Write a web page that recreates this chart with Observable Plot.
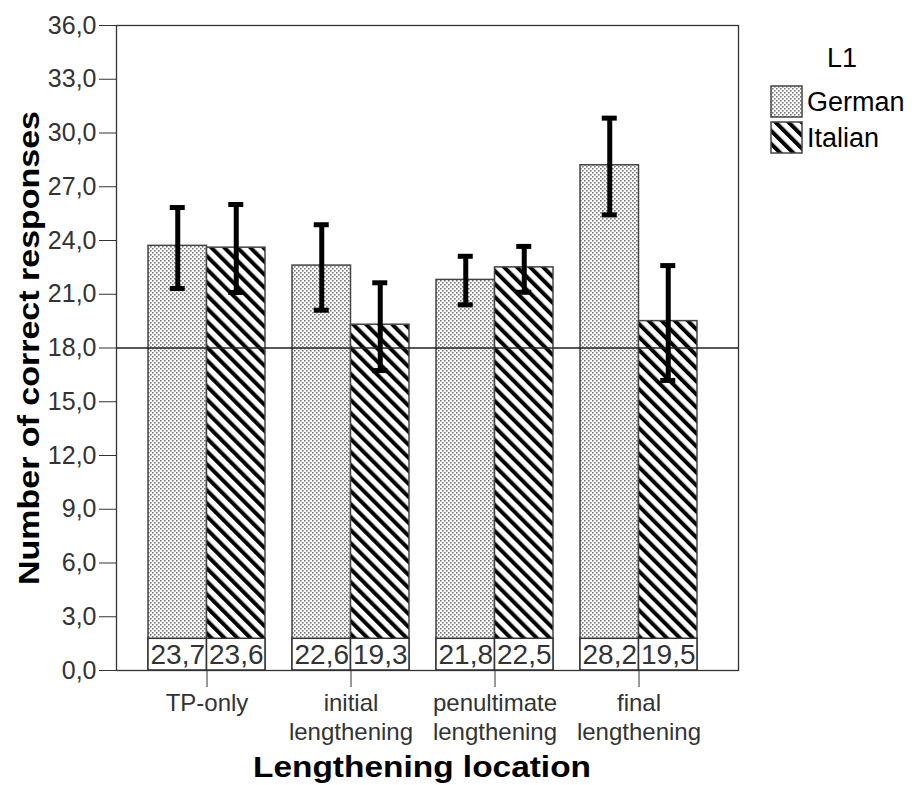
<!DOCTYPE html>
<html><head><meta charset="utf-8">
<script src="https://cdn.jsdelivr.net/npm/d3@7"></script>
<script src="https://cdn.jsdelivr.net/npm/@observablehq/plot@0.6"></script>
<style>
body{margin:0;background:#fff}
#chart{position:relative;width:918px;height:785px}
</style>
</head><body><div id="chart"></div>
<script>
const categories = ["TP-only", "initial lengthening", "penultimate lengthening", "final lengthening"];
const groups = ["German", "Italian"];
const germanMeans = [23.7, 22.6, 21.8, 28.2];
const italianMeans = [23.6, 19.3, 22.5, 19.5];
const germanLow = [21.32, 20.11, 20.41, 25.43];
const germanHigh = [25.84, 24.88, 23.12, 30.83];
const italianLow = [21.10, 16.74, 21.11, 16.19];
const italianHigh = [26.01, 21.64, 23.67, 22.60];
const yTicks = d3.range(0, 37, 3);
const referenceLine = [18];
const labelBoxTop = 1.77;
const yTitle = "Number of correct responses";
const xTitle = "Lengthening location";
const legendTitle = "L1";

const fmt = v => v.toFixed(1).replace(".", ",");
const german = categories.map((c, i) => ({cat: c, group: groups[0], mean: germanMeans[i], lo: germanLow[i], hi: germanHigh[i]}));
const italian = categories.map((c, i) => ({cat: c, group: groups[1], mean: italianMeans[i], lo: italianLow[i], hi: italianHigh[i]}));

const BW = 117, HALF = BW / 2, Q = BW / 4, CAP = 7.5;
const fills = {German: "url(#dots)", Italian: "url(#stripes)"};

const svg = Plot.plot({
  width: 918, height: 785,
  marginLeft: 116, marginRight: 180, marginTop: 25, marginBottom: 115,
  style: {fontSize: "25px", fontFamily: "'Liberation Sans', Arial, sans-serif", color: "#222", background: "#fff"},
  x: {type: "band", domain: categories, paddingInner: 0.19, paddingOuter: 0, insetLeft: 31, insetRight: 40},
  y: {domain: [0, 36]},
  marks: [
    Plot.barY(german, {x: "cat", y: "mean", fill: fills.German, stroke: "#444", strokeWidth: 1.5, insetRight: HALF}),
    Plot.barY(italian, {x: "cat", y: "mean", fill: fills.Italian, stroke: "#444", strokeWidth: 1.5, insetLeft: HALF}),
    Plot.barY(german, {x: "cat", y: () => labelBoxTop, fill: "#fff", stroke: "#333", strokeWidth: 1.5, insetRight: HALF}),
    Plot.barY(italian, {x: "cat", y: () => labelBoxTop, fill: "#fff", stroke: "#333", strokeWidth: 1.5, insetLeft: HALF}),
    Plot.text(german, {x: "cat", y: () => labelBoxTop / 2, text: d => fmt(d.mean), dx: -Q, fontSize: 28, fill: "#333"}),
    Plot.text(italian, {x: "cat", y: () => labelBoxTop / 2, text: d => fmt(d.mean), dx: Q, fontSize: 28, fill: "#333"}),
    Plot.ruleY(referenceLine, {stroke: "#222", strokeWidth: 1.3}),
    Plot.ruleX(german, {x: "cat", y1: "lo", y2: "hi", dx: -Q, stroke: "#000", strokeWidth: 5}),
    Plot.ruleX(italian, {x: "cat", y1: "lo", y2: "hi", dx: Q, stroke: "#000", strokeWidth: 5}),
    Plot.tickY(german, {x: "cat", y: "hi", insetLeft: Q - CAP, insetRight: BW - Q - CAP, stroke: "#000", strokeWidth: 5}),
    Plot.tickY(german, {x: "cat", y: "lo", insetLeft: Q - CAP, insetRight: BW - Q - CAP, stroke: "#000", strokeWidth: 5}),
    Plot.tickY(italian, {x: "cat", y: "hi", insetLeft: BW - Q - CAP, insetRight: Q - CAP, stroke: "#000", strokeWidth: 5}),
    Plot.tickY(italian, {x: "cat", y: "lo", insetLeft: BW - Q - CAP, insetRight: Q - CAP, stroke: "#000", strokeWidth: 5}),
    Plot.frame({stroke: "#333", strokeWidth: 1.3}),
    Plot.axisY({ticks: yTicks, tickSize: 17, tickPadding: 3, tickFormat: fmt, label: null, fill: "#333", stroke: "#333"}),
    Plot.axisX({tickSize: 17, tickPadding: 4, tickFormat: d => d.replace(" ", "\n"), label: null, lineHeight: 1.17, fontSize: 24, fill: "#333", stroke: "#333"})
  ]
});

const s = d3.select(svg);
const defs = s.insert("defs", ":first-child");
const dots = defs.append("pattern").attr("id", "dots").attr("patternUnits", "userSpaceOnUse").attr("width", 4).attr("height", 4);
dots.append("rect").attr("width", 4).attr("height", 4).attr("fill", "#fff");
dots.append("rect").attr("x", 0).attr("y", 0).attr("width", 1.6).attr("height", 1.6).attr("fill", "#7a7a7a");
dots.append("rect").attr("x", 2).attr("y", 2).attr("width", 1.6).attr("height", 1.6).attr("fill", "#7a7a7a");
const stripes = defs.append("pattern").attr("id", "stripes").attr("patternUnits", "userSpaceOnUse").attr("width", 9.2).attr("height", 9.2).attr("patternTransform", "rotate(-45)");
stripes.append("rect").attr("width", 9.2).attr("height", 9.2).attr("fill", "#fff");
stripes.append("rect").attr("x", 0).attr("y", 0).attr("width", 4).attr("height", 9.2).attr("fill", "#000");

s.append("text").attr("transform", "translate(28,348) rotate(-90)").attr("text-anchor", "middle").attr("dy", "0.35em")
  .attr("font-size", 30).attr("font-weight", "bold").attr("fill", "#000").attr("textLength", 474).attr("lengthAdjust", "spacingAndGlyphs").text(yTitle);
s.append("text").attr("x", 422).attr("y", 777).attr("text-anchor", "middle")
  .attr("font-size", 30).attr("font-weight", "bold").attr("fill", "#000").attr("textLength", 338).attr("lengthAdjust", "spacingAndGlyphs").text(xTitle);

const lg = s.append("g").attr("font-size", 27).attr("fill", "#000");
lg.append("text").attr("x", 842).attr("y", 67).attr("text-anchor", "middle").text(legendTitle);
groups.forEach((g, i) => {
  lg.append("rect").attr("x", 771).attr("y", 86 + i * 36).attr("width", 31).attr("height", 31)
    .attr("fill", fills[g]).attr("stroke", "#444").attr("stroke-width", 1.5);
  lg.append("text").attr("x", 807).attr("y", 111 + i * 36).attr("text-anchor", "start").text(g);
});

document.getElementById("chart").appendChild(svg);
</script>
</body></html>
